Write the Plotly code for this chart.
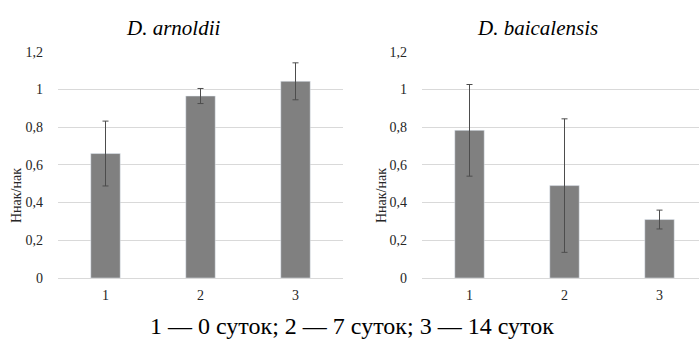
import plotly.graph_objects as go

categories = ["1", "2", "3"]
arnoldii_values = [0.66, 0.965, 1.043]
arnoldii_errors = [0.172, 0.04, 0.098]
baicalensis_values = [0.783, 0.49, 0.31]
baicalensis_errors = [0.243, 0.354, 0.05]
y_tick_values = [0, 0.2, 0.4, 0.6, 0.8, 1.0, 1.2]
y_tick_labels = ["0", "0,2", "0,4", "0,6", "0,8", "1", "1,2"]
titles = ["D. arnoldii", "D. baicalensis"]
y_title = "Ннак/нак"
caption = "1 — 0 суток; 2 — 7 суток; 3 — 14 суток"

W, H = 699, 345
BAR = "#808080"
ERR = "#4d4d4d"
GRID = "#d9d9d9"
FONT = "Times New Roman, Liberation Serif, serif"

fig = go.Figure()
fig.add_trace(go.Bar(x=categories, y=arnoldii_values, marker_color=BAR, width=0.31,
                     error_y=dict(type="data", array=arnoldii_errors, color=ERR, thickness=1, width=3),
                     xaxis="x", yaxis="y", showlegend=False))
fig.add_trace(go.Bar(x=categories, y=baicalensis_values, marker_color=BAR, width=0.31,
                     error_y=dict(type="data", array=baicalensis_errors, color=ERR, thickness=1, width=3),
                     xaxis="x2", yaxis="y2", showlegend=False))

ydom = [(H - 278) / H, (H - 51.7) / H]
yax = dict(range=[0, 1.2], tickvals=y_tick_values, ticktext=y_tick_labels, showgrid=True,
           gridcolor=GRID, gridwidth=1, zeroline=False, showline=False, domain=ydom,
           automargin=False,
           tickfont=dict(family=FONT, size=14, color="#262626"), ticklabelstandoff=14)
xax = dict(type="category", showgrid=False, zeroline=False, showline=True, linecolor=GRID,
           linewidth=1, ticks="", automargin=False,
           tickfont=dict(family=FONT, size=14, color="#262626"), ticklabelstandoff=4)

fig.update_layout(
    width=W, height=H, margin=dict(l=0, r=0, t=0, b=0),
    paper_bgcolor="white", plot_bgcolor="white",
    font=dict(family=FONT),
    xaxis=dict(xax, domain=[58 / W, 343 / W], range=[-0.5, 2.5]),
    xaxis2=dict(xax, domain=[422 / W, 1.0], range=[-0.5, 2.5 - 8 / 95], anchor="y2"),
    yaxis=dict(yax, anchor="x"),
    yaxis2=dict(yax, anchor="x2"),
    bargap=0.69,
)

ann = []
for i, xp in enumerate((173, 537)):
    ann.append(dict(text="<i>" + titles[i] + "</i>", x=xp / W, y=(H - 28) / H, xref="paper", yref="paper",
                    showarrow=False, font=dict(family=FONT, size=21, color="#000"),
                    xanchor="center", yanchor="middle"))
for xp in (16, 381):
    ann.append(dict(text=y_title, x=xp / W, y=(H - 196) / H, xref="paper", yref="paper",
                    showarrow=False, textangle=-90, font=dict(family=FONT, size=14, color="#262626"),
                    xanchor="center", yanchor="middle"))
ann.append(dict(text=caption, x=352 / W, y=(H - 326) / H, xref="paper", yref="paper",
                showarrow=False, font=dict(family=FONT, size=24, color="#000"),
                xanchor="center", yanchor="middle"))
fig.update_layout(annotations=ann)

fig.write_html("out.html", config={"displayModeBar": False},
               post_script="document.body.style.margin='0';document.body.style.overflow='hidden';")
